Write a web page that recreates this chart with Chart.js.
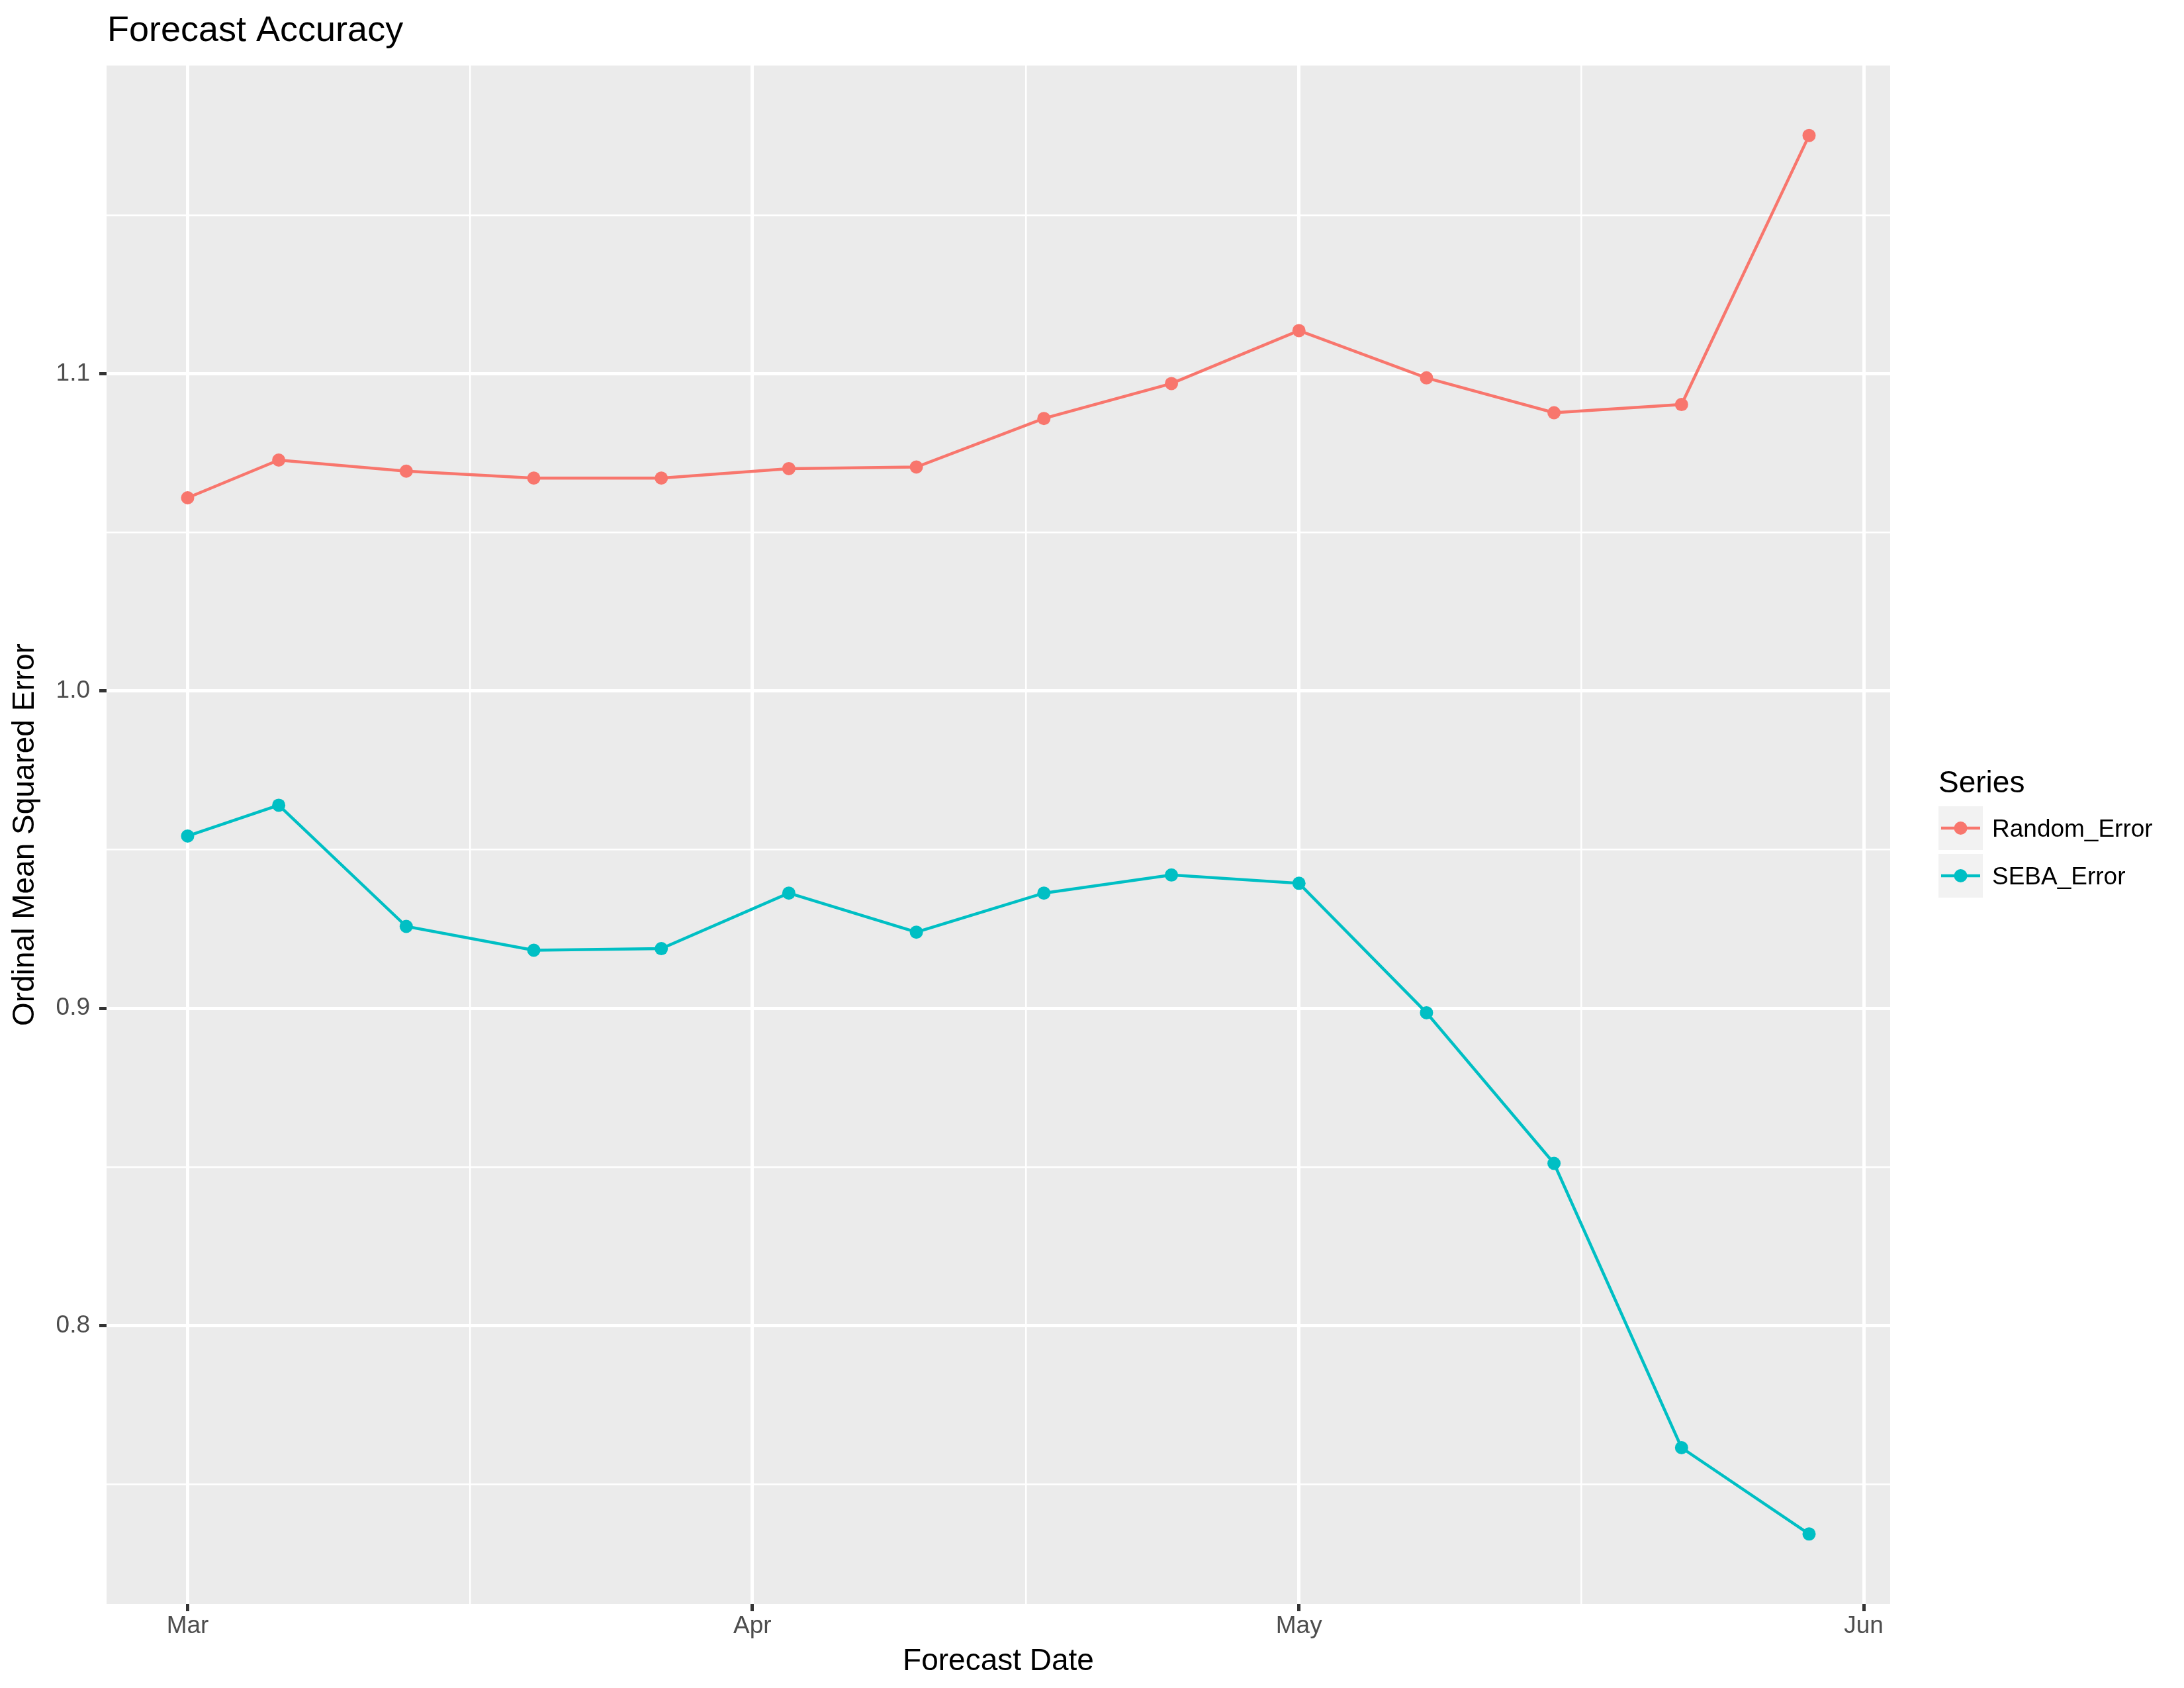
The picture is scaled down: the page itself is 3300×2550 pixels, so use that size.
<!DOCTYPE html>
<html>
<head>
<meta charset="utf-8">
<title>Forecast Accuracy</title>
<script src="https://cdn.jsdelivr.net/npm/chart.js@4.4.1/dist/chart.umd.min.js"></script>
<style>
  html, body { margin: 0; padding: 0; background: #fff; }
  #wrap { width: 3300px; height: 2550px; }
</style>
</head>
<body>
<div id="wrap"><canvas id="myChart" width="3300" height="2550"></canvas></div>
<script>
// forecast dates, counted in days from 1 March
const forecastDays = [0, 5, 12, 19, 26, 33, 40, 47, 54, 61, 68, 75, 82, 89];
const randomError = [1.0609, 1.0728, 1.0693, 1.0671, 1.0671, 1.0701, 1.0706, 1.0859, 1.0969, 1.1136, 1.0987, 1.0877, 1.0903, 1.1751];
const sebaError = [0.9543, 0.9640, 0.9258, 0.9183, 0.9188, 0.9363, 0.9240, 0.9363, 0.9420, 0.9394, 0.8986, 0.8511, 0.7615, 0.7343];

const monthDays = [0, 31, 61, 92];
const monthLabels = ["Mar", "Apr", "May", "Jun"];
const minorDays = [15.5, 46, 76.5];
const yMajor = [0.8, 0.9, 1.0, 1.1];
const yMinor = [0.75, 0.85, 0.95, 1.05, 1.15];

const seriesNames = ["Random_Error", "SEBA_Error"];
const seriesColors = ["#F8766D", "#00BFC4"];

const FONT = "'Liberation Sans', Arial, Helvetica, sans-serif";
Chart.defaults.font.family = FONT;

// ggplot style 5% expansion of the data range
function expand(vals) {
  const lo = Math.min(...vals), hi = Math.max(...vals);
  const pad = (hi - lo) * 0.05;
  return [lo - pad, hi + pad];
}
const xLim = expand(forecastDays);
const yLim = expand(randomError.concat(sebaError));

const isMonth = v => monthDays.some(d => Math.abs(d - v) < 1e-6);
const isYMajor = v => yMajor.some(d => Math.abs(d - v) < 1e-6);

const ggPanel = {
  id: "ggPanel",
  beforeDraw(chart) {
    const { ctx, chartArea: a } = chart;
    ctx.save();
    ctx.fillStyle = "#ffffff";
    ctx.fillRect(0, 0, chart.width, chart.height);
    ctx.fillStyle = "#EBEBEB";
    ctx.fillRect(a.left, a.top, a.right - a.left, a.bottom - a.top);
    ctx.restore();
  },
  afterDraw(chart) {
    const { ctx, chartArea: a } = chart;
    ctx.save();
    // title
    ctx.fillStyle = "#000";
    ctx.textBaseline = "alphabetic";
    ctx.textAlign = "left";
    ctx.font = "54px " + FONT;
    ctx.fillText("Forecast Accuracy", a.left + 1, 62);

    // legend
    const lx = a.right + 73;
    const midY = (a.top + a.bottom) / 2;
    ctx.font = "46px " + FONT;
    ctx.fillText("Series", lx, midY - 64);
    seriesNames.forEach((name, i) => {
      const top = midY - 43 + i * 72;
      ctx.fillStyle = "#F2F2F2";
      ctx.fillRect(lx, top, 67, 66);
      ctx.strokeStyle = seriesColors[i];
      ctx.lineWidth = 4.5;
      ctx.beginPath();
      ctx.moveTo(lx + 4, top + 33);
      ctx.lineTo(lx + 63, top + 33);
      ctx.stroke();
      ctx.fillStyle = seriesColors[i];
      ctx.beginPath();
      ctx.arc(lx + 33.5, top + 33, 10, 0, Math.PI * 2);
      ctx.fill();
      ctx.fillStyle = "#000";
      ctx.font = "37px " + FONT;
      ctx.fillText(name, lx + 81, top + 46);
    });
    ctx.restore();
  }
};

const ctx = document.getElementById("myChart").getContext("2d");
const myChart = new Chart(ctx, {
  type: "line",
  data: {
    datasets: [
      {
        label: seriesNames[0],
        data: forecastDays.map((d, i) => ({ x: d, y: randomError[i] })),
        borderColor: seriesColors[0],
        backgroundColor: seriesColors[0],
        borderWidth: 4.5,
        pointRadius: 10,
        pointBorderWidth: 0,
        tension: 0,
        fill: false
      },
      {
        label: seriesNames[1],
        data: forecastDays.map((d, i) => ({ x: d, y: sebaError[i] })),
        borderColor: seriesColors[1],
        backgroundColor: seriesColors[1],
        borderWidth: 4.5,
        pointRadius: 10,
        pointBorderWidth: 0,
        tension: 0,
        fill: false
      }
    ]
  },
  options: {
    responsive: false,
    animation: false,
    devicePixelRatio: 1,
    layout: { padding: { top: 99, right: 444, bottom: 0, left: 0 } },
    plugins: {
      legend: { display: false },
      tooltip: { enabled: false }
    },
    scales: {
      x: {
        type: "linear",
        min: xLim[0],
        max: xLim[1],
        afterBuildTicks: s => {
          s.ticks = monthDays.concat(minorDays).sort((p, q) => p - q).map(v => ({ value: v }));
        },
        afterFit: s => { s.height = 127; },
        border: { display: false },
        grid: {
          color: "#ffffff",
          lineWidth: c => (c.tick && isMonth(c.tick.value)) ? 5 : 2.5,
          drawTicks: true,
          tickLength: 11,
          tickWidth: 5,
          tickColor: c => (c.tick && isMonth(c.tick.value)) ? "#333333" : "rgba(0,0,0,0)"
        },
        ticks: {
          autoSkip: false,
          maxRotation: 0,
          padding: 1,
          color: "#4D4D4D",
          font: { size: 37 },
          callback: v => {
            const k = monthDays.findIndex(d => Math.abs(d - v) < 1e-6);
            return k >= 0 ? monthLabels[k] : "";
          }
        },
        title: {
          display: true,
          text: "Forecast Date",
          color: "#000",
          font: { size: 46 },
          padding: { top: 0, bottom: 12 }
        }
      },
      y: {
        type: "linear",
        min: yLim[0],
        max: yLim[1],
        afterBuildTicks: s => {
          s.ticks = yMajor.concat(yMinor).sort((p, q) => p - q).map(v => ({ value: v }));
        },
        afterFit: s => { s.width = 161; },
        border: { display: false },
        grid: {
          color: "#ffffff",
          lineWidth: c => (c.tick && isYMajor(c.tick.value)) ? 5 : 2.5,
          drawTicks: true,
          tickLength: 11,
          tickWidth: 5,
          tickColor: c => (c.tick && isYMajor(c.tick.value)) ? "#333333" : "rgba(0,0,0,0)"
        },
        ticks: {
          autoSkip: false,
          padding: 14,
          color: "#4D4D4D",
          font: { size: 37 },
          callback: v => isYMajor(v) ? v.toFixed(1) : ""
        },
        title: {
          display: true,
          text: "Ordinal Mean Squared Error",
          color: "#000",
          font: { size: 46 },
          padding: { top: 11, bottom: 0 }
        }
      }
    }
  },
  plugins: [ggPanel]
});
</script>
</body>
</html>
